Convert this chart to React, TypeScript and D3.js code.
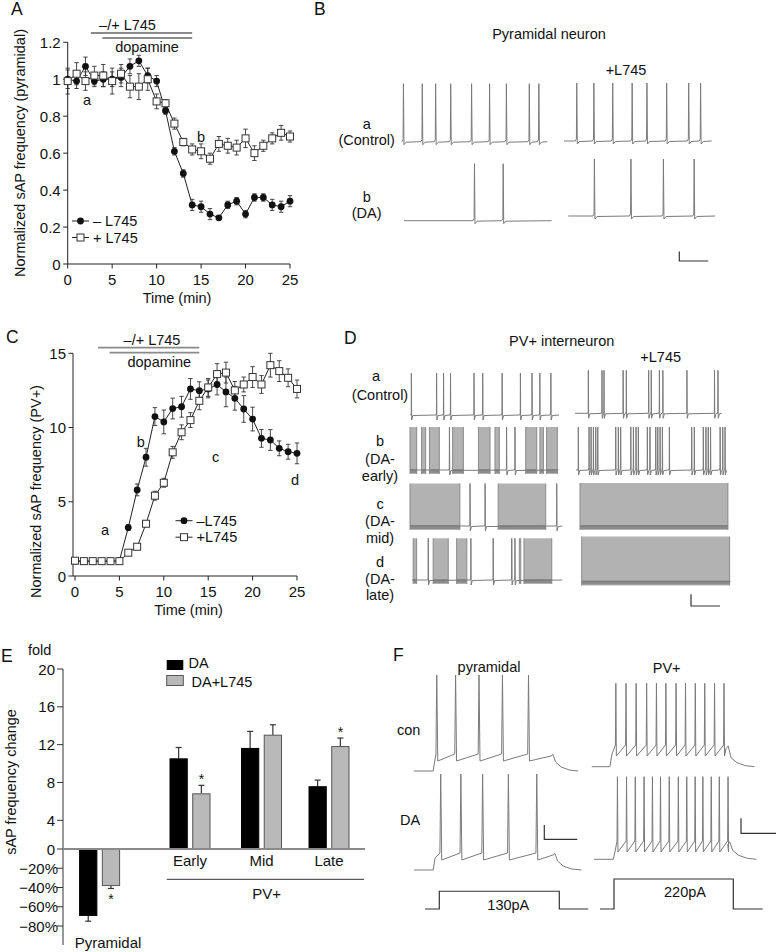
import React from 'react';
import * as d3 from 'd3';

const FONT = "'Liberation Sans', Arial, Helvetica, sans-serif";

// ---------------- Data ----------------
const TIME_MIN = [0, 1, 2, 3, 4, 5, 6, 7, 8, 9, 10, 11, 12, 13, 14, 15, 16, 17, 18, 19, 20, 21, 22, 23, 24, 25];
const TIME_TICKS = [0, 5, 10, 15, 20, 25];

// Panel A: pyramidal normalized sAP frequency
const A_Y_TICKS = [0, 0.2, 0.4, 0.6, 0.8, 1, 1.2];
const A_CTRL = [1.0, 0.99, 1.07, 0.99, 1.0, 1.0, 1.01, 1.07, 1.1, 1.02, 0.99, 0.83, 0.61, 0.49, 0.32, 0.31, 0.27, 0.25, 0.32, 0.34, 0.27, 0.36, 0.36, 0.32, 0.31, 0.34];
const A_CTRL_ERR = [0.05, 0.04, 0.05, 0.03, 0.04, 0.04, 0.05, 0.04, 0.03, 0.04, 0.03, 0.02, 0.02, 0.02, 0.03, 0.03, 0.03, 0.01, 0.02, 0.02, 0.02, 0.02, 0.02, 0.03, 0.03, 0.03];
const A_L745 = [0.99, 1.03, 0.99, 1.02, 1.02, 0.99, 1.03, 0.96, 0.96, 1.0, 0.88, 0.87, 0.76, 0.66, 0.62, 0.61, 0.57, 0.65, 0.64, 0.63, 0.68, 0.6, 0.64, 0.68, 0.71, 0.69];
const A_L745_ERR = [0.07, 0.06, 0.05, 0.05, 0.06, 0.07, 0.05, 0.06, 0.07, 0.06, 0.04, 0.02, 0.03, 0.02, 0.03, 0.04, 0.03, 0.04, 0.04, 0.04, 0.05, 0.04, 0.03, 0.03, 0.04, 0.03];

// Panel C: PV+ normalized sAP frequency
const C_Y_TICKS = [0, 5, 10, 15];
const C_CTRL = [1.0, 1.0, 1.0, 1.0, 1.0, 1.03, 3.26, 5.8, 8.0, 10.74, 10.38, 11.28, 11.4, 12.6, 12.48, 12.6, 12.9, 12.4, 11.97, 11.25, 10.57, 9.27, 9.16, 8.6, 8.37, 8.26];
const C_CTRL_ERR = [0.05, 0.05, 0.05, 0.05, 0.05, 0.05, 0.2, 0.4, 0.6, 0.6, 0.8, 0.7, 0.7, 0.7, 0.6, 0.6, 0.7, 1.0, 0.8, 0.9, 0.8, 0.6, 0.7, 0.5, 0.5, 0.7];
const C_L745 = [1.03, 1.0, 1.0, 1.0, 1.0, 1.0, 1.57, 1.97, 3.52, 5.41, 6.28, 8.33, 9.68, 10.5, 11.8, 12.7, 13.6, 13.7, 12.5, 12.9, 13.4, 12.9, 14.2, 13.8, 13.35, 12.6];
const C_L745_ERR = [0.05, 0.05, 0.05, 0.05, 0.05, 0.05, 0.1, 0.15, 0.2, 0.3, 0.3, 0.4, 0.5, 0.5, 0.6, 0.6, 0.7, 0.7, 0.6, 0.5, 0.7, 0.6, 0.8, 0.7, 0.6, 0.6];

// Drug application bars (minutes)
const L745_BAR = [2.6, 14];
const DA_BAR = [3.9, 14];

// Panel B: pyramidal spike times (s)
const B_CTRL = [0.06, 0.71, 1.17, 1.69, 2.41, 3.03, 3.61, 4.4, 4.73];
const B_CTRL_L745 = [0.44, 1.03, 1.68, 2.35, 2.86, 3.54, 4.3, 4.71];
const B_DA = [2.43, 3.42];
const B_DA_L745 = [0.9, 2.16, 3.28, 4.34];

// Panel D: PV+ spike times (s) and dense bursts [start, end] (s)
const D_A_SPIKES = [0.03, 0.9, 1.14, 1.38, 2.19, 2.49, 3.16, 3.79, 4.19, 4.46, 4.84];
const D_A_L745_SPIKES = [0.46, 0.93, 1.0, 1.66, 1.77, 2.54, 2.63, 2.91, 3.03, 3.86, 4.81, 4.93];
const D_B_BURSTS = [[0, 0.23], [0.4, 0.54], [0.67, 1.01], [1.47, 1.84], [2.36, 2.76], [2.93, 3.08], [3.99, 4.37], [4.48, 4.6], [4.71, 5.08]];
const D_B_SPIKES = [1.36, 3.33, 3.62];
const D_B_L745_SPIKES = [0.08, 0.45, 0.52, 0.6, 0.68, 0.75, 1.37, 1.46, 1.54, 1.89, 1.98, 2.07, 2.15, 2.46, 2.55, 2.75, 2.82, 2.9, 2.98, 3.22, 3.99, 4.08, 4.39, 4.48, 4.56, 4.64, 4.97, 5.06, 5.14];
const D_C_BURSTS = [[0, 1.72], [3.04, 4.68]];
const D_C_SPIKES = [2.07, 2.59, 5.06];
const D_C_L745_BURSTS = [[0, 5.1]];
const D_D_BURSTS = [[0.04, 0.16], [0.73, 1.25], [1.54, 1.89], [3.7, 3.75], [3.86, 4.82]];
const D_D_SPIKES = [0.56, 2.03, 2.8, 3.44, 3.55];
const D_D_L745_BURSTS = [[0, 5.1]];

// Panel E: bar chart
const E_GROUPS = ['Pyramidal', 'Early', 'Mid', 'Late'];
const E_SERIES = ['DA', 'DA+L745'];
const E_DA = [-69, 10.5, 11.6, 7.55];
const E_DA_ERR = [6, 1.2, 1.8, 0.7];
const E_L745 = [-38, 6.8, 13.0, 11.8];
const E_L745_ERR = [3, 0.9, 1.1, 0.9];
const E_L745_SIG = [true, true, false, true];
const E_Y_TICKS = [-80, -60, -40, -20, 0, 4, 8, 12, 16, 20];

// Panel F: evoked firing (ms)
const F_PYR_CON = [69, 126, 197, 268, 347];
const F_PYR_DA = [81, 142, 208, 286, 372];
const F_PV_CON = [69, 98, 127, 157, 185, 212, 241, 268, 296, 323, 351, 378];
const F_PV_DA = [67, 93, 118, 143, 167, 190, 215, 241, 265, 289, 311, 335, 358, 383];
const F_STEP_PA = [130, 220];
const F_STEP_LABELS = ['130pA', '220pA'];

// ---------------- Helpers ----------------
const TXT = '#111';
const TRACE = '#7a7a7a';

type Pt = [number, number];

function spikePoints(spikes: number[], dur: number, base: number, amp: number, pre: number, post: number, dip: number): Pt[] {
  const pts: Pt[] = [[0, base]];
  spikes.forEach((t) => {
    pts.push([Math.max(0, t - pre), base]);
    pts.push([t - pre * 0.25, base - 2]);
    pts.push([t, base - amp]);
    pts.push([t + post * 0.2, base + dip]);
    pts.push([t + post, base + 0.5]);
  });
  pts.push([dur, base]);
  return pts;
}

function SpikeTrace({ x0, base, amp, dur, spikes, pxPerS, pre = 0.05, post = 0.09, dip = 3 }: any) {
  const xs = d3.scaleLinear().domain([0, 1]).range([x0, x0 + pxPerS]);
  const line = d3.line<Pt>().x((d) => xs(d[0])).y((d) => d[1]);
  return <path d={line(spikePoints(spikes, dur, base, amp, pre, post, dip)) || ''} fill="none" stroke={TRACE} strokeWidth={1} />;
}

function BurstTrace({ x0, base, amp, dur, spikes, bursts, pxPerS }: any) {
  const xs = d3.scaleLinear().domain([0, 1]).range([x0, x0 + pxPerS]);
  return (
    <g>
      {bursts.map((b: number[], i: number) => (
        <g key={i}>
          <rect x={xs(b[0])} y={base - amp} width={Math.max(1.2, xs(b[1]) - xs(b[0]))} height={amp + 4} fill="#b2b2b2" />
          <line x1={xs(b[0])} x2={xs(b[0])} y1={base - amp} y2={base + 4} stroke="#8a8a8a" strokeWidth={1} />
          <line x1={xs(b[1])} x2={xs(b[1])} y1={base - amp} y2={base + 4} stroke="#8a8a8a" strokeWidth={1} />
          <line x1={xs(b[0])} x2={xs(b[1])} y1={base + 1} y2={base + 1} stroke="#8c8c8c" strokeWidth={4} />
        </g>
      ))}
      <SpikeTrace x0={x0} base={base} amp={amp} dur={dur} spikes={spikes} pxPerS={pxPerS} pre={0.02} post={0.05} dip={5} />
    </g>
  );
}

function stepPoints(c: any): Pt[] {
  const pts: Pt[] = [[0, c.base], [c.on, c.base], [c.on + 6, c.plateau]];
  c.spikes.forEach((t: number) => {
    pts.push([t - c.w, c.plateau - c.ramp]);
    pts.push([t, c.peak]);
    pts.push([t + c.w * 1.2, c.plateau + 2]);
  });
  pts.push([c.off - 6, c.plateau - c.ramp * 0.6]);
  pts.push([c.off, c.plateau - c.ramp * 0.9]);
  pts.push([c.off + 8, c.base - 9]);
  pts.push([c.off + 25, c.base - 4]);
  pts.push([c.off + 50, c.base - 1]);
  pts.push([c.end, c.base]);
  return pts;
}

function StepTrace(c: any) {
  const xs = d3.scaleLinear().domain([0, 100]).range([c.x0, c.x0 + c.pxPer100]);
  const line = d3.line<Pt>().x((d) => xs(d[0])).y((d) => d[1]);
  return <path d={line(stepPoints(c)) || ''} fill="none" stroke={TRACE} strokeWidth={1} />;
}

function ScaleBar({ x, y, w, h }: any) {
  return <path d={`M${x},${y - h}V${y}H${x + w}`} fill="none" stroke="#333" strokeWidth={1.2} />;
}

function TimePanel(p: any) {
  const { xs, ys, axisX, yTicks, fmt, ctrl, ctrlErr, drug, drugErr } = p;
  const bottom = ys(yTicks[0]);
  const top = ys(yTicks[yTicks.length - 1]);
  const line = d3.line<number>().x((_, i) => xs(TIME_MIN[i])).y((d) => ys(d));
  const err = (vals: number[], errs: number[], key: string) =>
    vals.map((v, i) => {
      const x = xs(TIME_MIN[i]);
      const y1 = ys(v + errs[i]);
      const y2 = ys(v - errs[i]);
      return (
        <g key={key + i} stroke="#333" strokeWidth={0.9}>
          <line x1={x} x2={x} y1={y1} y2={y2} />
          <line x1={x - 2.2} x2={x + 2.2} y1={y1} y2={y1} />
          <line x1={x - 2.2} x2={x + 2.2} y1={y2} y2={y2} />
        </g>
      );
    });
  return (
    <g>
      <line x1={axisX} x2={axisX} y1={bottom} y2={top} stroke="#222" />
      <line x1={axisX} x2={xs(25)} y1={bottom} y2={bottom} stroke="#222" />
      {yTicks.map((v: number) => (
        <g key={'y' + v}>
          <line x1={axisX - 4.5} x2={axisX} y1={ys(v)} y2={ys(v)} stroke="#222" />
          <text x={axisX - 7} y={ys(v)} textAnchor="end" dominantBaseline="central" fontSize={15} fill={TXT}>{fmt(v)}</text>
        </g>
      ))}
      {TIME_TICKS.map((v) => (
        <g key={'x' + v}>
          <line x1={xs(v)} x2={xs(v)} y1={bottom} y2={bottom + 4.5} stroke="#222" />
          <text x={xs(v)} y={bottom + 15} textAnchor="middle" dominantBaseline="central" fontSize={15} fill={TXT}>{v}</text>
        </g>
      ))}
      <path d={line(ctrl) || ''} fill="none" stroke="#222" strokeWidth={1} />
      <path d={line(drug) || ''} fill="none" stroke="#222" strokeWidth={1} />
      {err(ctrl, ctrlErr, 'ce')}
      {err(drug, drugErr, 'de')}
      {ctrl.map((v: number, i: number) => (
        <circle key={'c' + i} cx={xs(TIME_MIN[i])} cy={ys(v)} r={3.4} fill="#111" />
      ))}
      {drug.map((v: number, i: number) => (
        <rect key={'s' + i} x={xs(TIME_MIN[i]) - 3.5} y={ys(v) - 3.5} width={7} height={7} fill="#fff" stroke="#333" strokeWidth={1} />
      ))}
    </g>
  );
}

function DrugBars({ xs, yTop, l745Label, l745LabelX }: any) {
  return (
    <g>
      <text x={l745LabelX} y={yTop - 8} textAnchor="middle" dominantBaseline="central" fontSize={14.5} fill={TXT}>–/+ L745</text>
      <line x1={xs(L745_BAR[0])} x2={xs(L745_BAR[1])} y1={yTop} y2={yTop} stroke="#8a8a8a" strokeWidth={1.8} />
      <line x1={xs(DA_BAR[0])} x2={xs(DA_BAR[1])} y1={yTop + 5} y2={yTop + 5} stroke="#8a8a8a" strokeWidth={1.8} />
      <text x={l745Label} y={yTop + 14} textAnchor="middle" dominantBaseline="central" fontSize={14.5} fill={TXT}>dopamine</text>
    </g>
  );
}

function Legend({ x, y, labels }: any) {
  return (
    <g>
      <line x1={x} x2={x + 17} y1={y} y2={y} stroke="#222" />
      <circle cx={x + 8.5} cy={y} r={3.4} fill="#111" />
      <text x={x + 21} y={y} dominantBaseline="central" fontSize={14.5} fill={TXT}>{labels[0]}</text>
      <line x1={x} x2={x + 17} y1={y + 16.5} y2={y + 16.5} stroke="#222" />
      <rect x={x + 5} y={y + 13} width={7} height={7} fill="#fff" stroke="#333" />
      <text x={x + 21} y={y + 16.5} dominantBaseline="central" fontSize={14.5} fill={TXT}>{labels[1]}</text>
    </g>
  );
}

function EPanel() {
  const y = d3.scaleLinear().domain([-80, 0, 4, 20]).range([926, 849, 820.3, 669]);
  const groupX = d3.scaleOrdinal<string, number>().domain(E_GROUPS).range([99.6, 190, 261.5, 329]);
  const inner = d3.scaleBand().domain(E_SERIES).range([-20, 20]).paddingInner(0.24);
  const axisX = 63;
  const bw = inner.bandwidth();
  const bars = [
    { vals: E_DA, errs: E_DA_ERR, key: 'DA', fill: '#000', stroke: '#000' },
    { vals: E_L745, errs: E_L745_ERR, key: 'DA+L745', fill: '#b9b9b9', stroke: '#555' },
  ];
  return (
    <g>
      <line x1={axisX} x2={axisX} y1={y(20)} y2={945} stroke="#333" />
      {E_Y_TICKS.map((v) => (
        <g key={v}>
          <line x1={axisX - 6} x2={axisX} y1={y(v)} y2={y(v)} stroke="#333" />
          <text x={v < 0 ? 58 : 55} y={y(v)} textAnchor="end" dominantBaseline="central" fontSize={15} fill={TXT}>
            {v < 0 ? `−${Math.abs(v)}%` : v}
          </text>
        </g>
      ))}
      {bars.map((s) =>
        s.vals.map((v, i) => {
          const x = groupX(E_GROUPS[i]) + (inner(s.key) as number);
          const y0 = y(0);
          const yv = y(v);
          const ye = y(v >= 0 ? v + s.errs[i] : v - s.errs[i]);
          const cx = x + bw / 2;
          return (
            <g key={s.key + i}>
              <line x1={cx} x2={cx} y1={yv} y2={ye} stroke="#333" strokeWidth={1.2} />
              <line x1={cx - 3} x2={cx + 3} y1={ye} y2={ye} stroke="#333" strokeWidth={1.2} />
              <rect x={x} y={Math.min(y0, yv)} width={bw} height={Math.abs(yv - y0)} fill={s.fill} stroke={s.stroke} strokeWidth={1} />
            </g>
          );
        })
      )}
      <line x1={axisX} x2={365} y1={y(0)} y2={y(0)} stroke="#8a8a8a" strokeWidth={2} />
      {E_L745.map((v, i) => {
        if (!E_L745_SIG[i]) return null;
        const cx = groupX(E_GROUPS[i]) + (inner('DA+L745') as number) + bw / 2;
        const ye = y(v >= 0 ? v + E_L745_ERR[i] : v - E_L745_ERR[i]);
        return (
          <text key={'st' + i} x={cx} y={v >= 0 ? ye - 1 : ye + 16} textAnchor="middle" fontSize={14} fill={TXT}>*</text>
        );
      })}
      {E_GROUPS.slice(1).map((g) => (
        <text key={g} x={groupX(g)} y={860} textAnchor="middle" dominantBaseline="central" fontSize={15} fill={TXT}>{g}</text>
      ))}
      <line x1={166.7} x2={364} y1={879.3} y2={879.3} stroke="#333" />
      <text x={266.7} y={893.5} textAnchor="middle" dominantBaseline="central" fontSize={15} fill={TXT}>PV+</text>
      <text x={108} y={942.5} textAnchor="middle" dominantBaseline="central" fontSize={15} fill={TXT}>{E_GROUPS[0]}</text>
      {/* legend */}
      <rect x={166.7} y={660} width={16.6} height={10} fill="#000" />
      <text x={188.5} y={662.5} dominantBaseline="central" fontSize={14.5} fill={TXT}>{E_SERIES[0]}</text>
      <rect x={166.7} y={675.5} width={16.6} height={10} fill="#b9b9b9" stroke="#555" />
      <text x={191.5} y={681.5} dominantBaseline="central" fontSize={14.5} fill={TXT}>{E_SERIES[1]}</text>
      <text x={28} y={650} dominantBaseline="central" fontSize={14.5} fill={TXT}>fold</text>
      <text x={11} y={782} textAnchor="middle" dominantBaseline="central" fontSize={14.5} fill={TXT} transform="rotate(-90 11 782)">sAP frequency change</text>
    </g>
  );
}

export default function App() {
  const xA = d3.scaleLinear().domain([0, 25]).range([67.7, 290]);
  const yA = d3.scaleLinear().domain([0, 1.2]).range([264, 42.3]);
  const xC = d3.scaleLinear().domain([0, 25]).range([75, 297]);
  const yC = d3.scaleLinear().domain([0, 15]).range([576, 353.3]);
  const fmtA = d3.format('~g');
  const PX_S = 29;

  const pyrPx = 33; // px per 100 ms
  const pvPx = 35;
  const pAscale = d3.scaleLinear().domain([0, 220]).range([0, 30]);

  const letter = (t: string, x: number, y: number) => (
    <text x={x} y={y} dominantBaseline="central" fontSize={17.5} fill={TXT}>{t}</text>
  );
  const lab = (t: string, x: number, y: number, anchor = 'middle') => (
    <text x={x} y={y} textAnchor={anchor} dominantBaseline="central" fontSize={14.5} fill={TXT}>{t}</text>
  );

  return (
    <svg width={777} height={952} style={{ position: 'absolute', left: 0, top: 0, background: '#fff' }} fontFamily={FONT}>
      <rect x={0} y={0} width={777} height={952} fill="#fff" />
      {/* ---------- Panel A ---------- */}
      {letter('A', 11, 9)}
      <DrugBars xs={xA} yTop={33} l745LabelX={127.5} l745Label={147} />
      <TimePanel xs={xA} ys={yA} axisX={67.7} yTicks={A_Y_TICKS} fmt={fmtA} ctrl={A_CTRL} ctrlErr={A_CTRL_ERR} drug={A_L745} drugErr={A_L745_ERR} />
      <Legend x={72} y={221} labels={['– L745', '+ L745']} />
      {lab('a', 87, 100)}
      {lab('b', 201, 137)}
      <text x={19.5} y={153} textAnchor="middle" dominantBaseline="central" fontSize={14.5} fill={TXT} transform="rotate(-90 19.5 153)">Normalized sAP frequency (pyramidal)</text>
      {lab('Time (min)', 177, 298)}

      {/* ---------- Panel B ---------- */}
      {letter('B', 314, 9)}
      {lab('Pyramidal neuron', 549, 33.5)}
      {lab('+L745', 626, 69.5)}
      {lab('a', 366.7, 123.5)}
      {lab('(Control)', 366.7, 140)}
      {lab('b', 366.7, 196.5)}
      {lab('(DA)', 366.7, 213)}
      <SpikeTrace x0={401.7} base={141.7} amp={58} dur={5.02} spikes={B_CTRL} pxPerS={PX_S} />
      <SpikeTrace x0={564} base={141} amp={58} dur={5.09} spikes={B_CTRL_L745} pxPerS={PX_S} />
      <SpikeTrace x0={404} base={220.7} amp={57} dur={5.09} spikes={B_DA} pxPerS={PX_S} />
      <SpikeTrace x0={568.3} base={216} amp={57} dur={5.06} spikes={B_DA_L745} pxPerS={PX_S} />
      <ScaleBar x={679.3} y={261} w={29} h={9.5} />

      {/* ---------- Panel C ---------- */}
      {letter('C', 6, 337)}
      <DrugBars xs={xC} yTop={347.7} l745LabelX={152} l745Label={159.3} />
      <TimePanel xs={xC} ys={yC} axisX={73} yTicks={C_Y_TICKS} fmt={(v: number) => String(v)} ctrl={C_CTRL} ctrlErr={C_CTRL_ERR} drug={C_L745} drugErr={C_L745_ERR} />
      <Legend x={175.5} y={520.7} labels={['–L745', '+L745']} />
      {lab('a', 105, 530)}
      {lab('b', 140.7, 441.7)}
      {lab('c', 215.7, 456.7)}
      {lab('d', 295, 480)}
      <text x={36} y={491.5} textAnchor="middle" dominantBaseline="central" fontSize={14.5} fill={TXT} transform="rotate(-90 36 491.5)">Normalized sAP frequency (PV+)</text>
      {lab('Time (min)', 188.5, 610)}

      {/* ---------- Panel D ---------- */}
      {letter('D', 344, 338)}
      {lab('PV+ interneuron', 561.7, 340.7)}
      {lab('+L745', 660.7, 356.7)}
      {lab('a', 376, 376)}
      {lab('(Control)', 380, 394.5)}
      {lab('b', 380, 441)}
      {lab('(DA-', 380, 458.5)}
      {lab('early)', 380, 475.5)}
      {lab('c', 380, 503.5)}
      {lab('(DA-', 380, 520.5)}
      {lab('mid)', 380, 537.5)}
      {lab('d', 380, 561.5)}
      {lab('(DA-', 380, 578.5)}
      {lab('late)', 380, 595)}
      <SpikeTrace x0={410.5} base={415} amp={42} dur={5.12} spikes={D_A_SPIKES} pxPerS={PX_S} pre={0.02} post={0.05} dip={5} />
      <SpikeTrace x0={575} base={413.3} amp={43} dur={5.06} spikes={D_A_L745_SPIKES} pxPerS={PX_S} pre={0.02} post={0.05} dip={5} />
      <BurstTrace x0={410} base={470} amp={43} dur={5.12} spikes={D_B_SPIKES} bursts={D_B_BURSTS} pxPerS={PX_S} />
      <SpikeTrace x0={576} base={470} amp={43} dur={5.2} spikes={D_B_L745_SPIKES} pxPerS={PX_S} pre={0.02} post={0.05} dip={5} />
      <BurstTrace x0={410} base={526} amp={42.5} dur={5.25} spikes={D_C_SPIKES} bursts={D_C_BURSTS} pxPerS={PX_S} />
      <BurstTrace x0={580} base={526} amp={43} dur={5.11} spikes={[]} bursts={D_C_L745_BURSTS} pxPerS={PX_S} />
      <BurstTrace x0={412} base={580} amp={41.7} dur={5.18} spikes={D_D_SPIKES} bursts={D_D_BURSTS} pxPerS={PX_S} />
      <BurstTrace x0={581.7} base={581.5} amp={45} dur={5.13} spikes={[]} bursts={D_D_L745_BURSTS} pxPerS={PX_S} />
      <ScaleBar x={691} y={606} w={29} h={11.7} />

      {/* ---------- Panel E ---------- */}
      {letter('E', 1, 656)}
      <EPanel />

      {/* ---------- Panel F ---------- */}
      {letter('F', 393, 655)}
      {lab('pyramidal', 489, 666.7)}
      {lab('PV+', 666.7, 668.3)}
      {lab('con', 397, 730, 'start')}
      {lab('DA', 400, 820, 'start')}
      <StepTrace x0={414} pxPer100={pyrPx} base={771} plateau={759} peak={675} ramp={5} w={2.5} on={58} off={421} end={497} spikes={F_PYR_CON} />
      <StepTrace x0={414} pxPer100={pyrPx} base={870} plateau={858} peak={774} ramp={5} w={2.5} on={58} off={427} end={508} spikes={F_PYR_DA} />
      <StepTrace x0={591.7} pxPer100={pvPx} base={766.7} plateau={754} peak={683.3} ramp={9} w={1.2} on={52} off={390} end={465} spikes={F_PV_CON} />
      <StepTrace x0={594} pxPer100={pvPx} base={859.3} plateau={850} peak={776.7} ramp={9} w={1.2} on={55} off={388} end={464} spikes={F_PV_DA} />
      <ScaleBar x={544.3} y={839.3} w={33} h={14.3} />
      <ScaleBar x={741} y={833.3} w={35} h={15} />
      <path d={`M425,909H439.3V${909 - pAscale(F_STEP_PA[0])}H559.3V909H588.3`} fill="none" stroke="#333" strokeWidth={1.2} />
      <path d={`M600,909H614V${909 - pAscale(F_STEP_PA[1])}H733.3V909H762.7`} fill="none" stroke="#333" strokeWidth={1.2} />
      {lab(F_STEP_LABELS[0], 508.3, 905)}
      {lab(F_STEP_LABELS[1], 685, 891.7)}
    </svg>
  );
}
